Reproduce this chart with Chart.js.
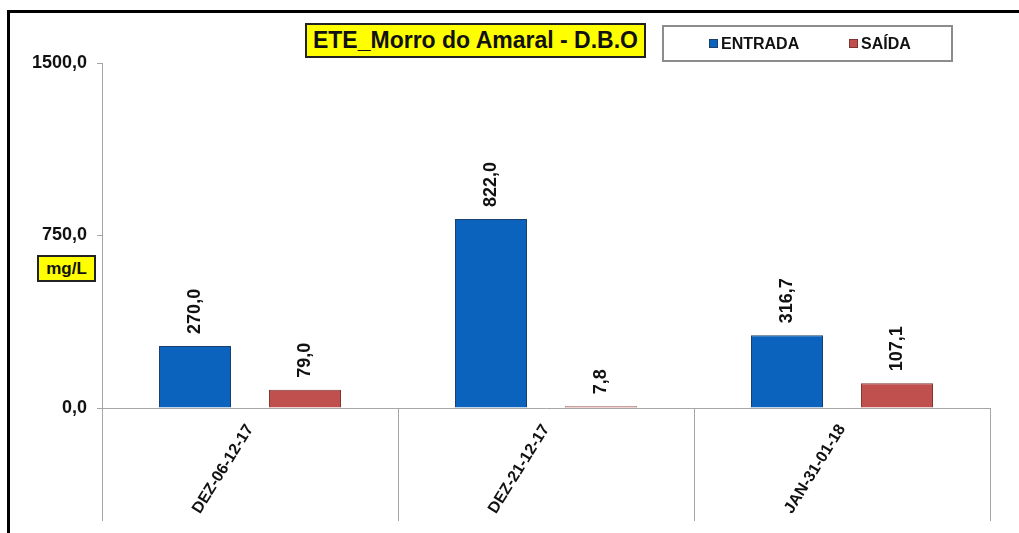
<!DOCTYPE html>
<html><head><meta charset="utf-8">
<script src="https://cdn.jsdelivr.net/npm/chart.js@4.4.0/dist/chart.umd.min.js"></script>
<style>
html,body{margin:0;padding:0;background:#fff;}
#wrap{position:relative;width:1019px;height:533px;overflow:hidden;font-family:"Liberation Sans",Arial,sans-serif;background:#fff;}
#frame{position:absolute;left:7px;top:10px;width:1100px;height:600px;border-top:3px solid #000;border-left:3px solid #000;box-sizing:border-box;}
canvas{position:absolute;left:0;top:0;}
#title{position:absolute;left:305px;top:23px;width:337px;height:31px;background:#ffff00;border:2px solid #222;font-weight:bold;font-size:23px;line-height:31px;text-align:center;color:#111;white-space:nowrap;}
#legend{position:absolute;left:662px;top:25px;width:287px;height:33px;border:2px solid #8c8c8c;background:#fff;}
.item{position:absolute;top:0;line-height:33px;font-weight:bold;font-size:16px;color:#111;white-space:nowrap;}
.sw{display:inline-block;width:7px;height:7px;margin-right:3px;vertical-align:1px;border:1px solid;}
#unit{position:absolute;left:37px;top:255px;width:55px;height:23px;background:#ffff00;border:2px solid #222;font-weight:bold;font-size:17px;line-height:23px;text-align:center;color:#111;}
</style></head>
<body>
<div id="wrap">
  <div id="frame"></div>
  <canvas id="c" width="1019" height="533"></canvas>
  <div id="title"></div>
  <div id="legend"></div>
  <div id="unit"></div>
</div>
<script>
const chartTitle = 'ETE_Morro do Amaral - D.B.O';
const unitLabel = 'mg/L';
const categories = ['DEZ-06-12-17', 'DEZ-21-12-17', 'JAN-31-01-18'];
const entrada = [270.0, 822.0, 316.7];
const saida = [79.0, 7.8, 107.1];
const seriesNames = ['ENTRADA', 'SAÍDA'];
const seriesColors = ['#0B63BE', '#C0504D'];
const seriesBorders = ['#1D3F6B', '#7E3432'];
const yTicks = [0, 750, 1500];

const fmt = v => v.toFixed(1).replace('.', ',');
const FONT = '"Liberation Sans", Arial, sans-serif';

document.getElementById('title').textContent = chartTitle;
document.getElementById('unit').textContent = unitLabel;
const legend = document.getElementById('legend');
const legendX = [45, 185];
seriesNames.forEach((n, i) => {
  const d = document.createElement('div');
  d.className = 'item';
  d.style.left = legendX[i] + 'px';
  const s = document.createElement('span');
  s.className = 'sw';
  s.style.background = seriesColors[i];
  s.style.borderColor = seriesBorders[i];
  d.appendChild(s);
  d.appendChild(document.createTextNode(n));
  legend.appendChild(d);
});

const valueLabels = {
  id: 'valueLabels',
  afterDatasetsDraw(chart) {
    const ctx = chart.ctx;
    chart.data.datasets.forEach((ds, i) => {
      chart.getDatasetMeta(i).data.forEach((bar, j) => {
        ctx.save();
        ctx.translate(bar.x, bar.y - 12);
        ctx.rotate(-Math.PI / 2);
        ctx.font = 'bold 18px ' + FONT;
        ctx.fillStyle = '#111';
        ctx.textAlign = 'left';
        ctx.textBaseline = 'middle';
        ctx.fillText(fmt(ds.data[j]), 0, 0);
        ctx.restore();
      });
    });
  }
};

Chart.defaults.font.family = FONT;
new Chart(document.getElementById('c'), {
  type: 'bar',
  data: {
    labels: categories,
    datasets: [
      { label: seriesNames[0], data: entrada, backgroundColor: seriesColors[0], borderColor: seriesBorders[0], borderWidth: 1 },
      { label: seriesNames[1], data: saida, backgroundColor: seriesColors[1], borderColor: seriesBorders[1], borderWidth: 1 }
    ]
  },
  options: {
    responsive: false,
    devicePixelRatio: 1,
    animation: false,
    categoryPercentage: 0.743,
    barPercentage: 0.655,
    layout: { padding: { top: 63, right: 29, bottom: 0, left: 0 } },
    plugins: { legend: { display: false }, title: { display: false }, tooltip: { enabled: false } },
    scales: {
      x: {
        grid: { offset: true, drawOnChartArea: false, drawTicks: true, tickLength: 113, tickColor: '#a6a6a6', color: '#a6a6a6', lineWidth: 1 },
        border: { display: true, color: '#a6a6a6', width: 1 },
        ticks: { minRotation: 58, maxRotation: 58, autoSkip: false, padding: -100, color: '#111', font: { size: 16, weight: 'bold' } },
        afterFit: s => { s.height = 125; }
      },
      y: {
        min: 0, max: 1500,
        afterBuildTicks: s => { s.ticks = yTicks.map(v => ({ value: v })); },
        grid: { drawOnChartArea: false, drawTicks: true, tickLength: 5, tickColor: '#a6a6a6' },
        border: { display: true, color: '#a6a6a6', width: 1 },
        ticks: { padding: 10, color: '#111', font: { size: 18, weight: 'bold' }, callback: v => fmt(v) },
        afterFit: s => { s.width = 102; }
      }
    }
  },
  plugins: [valueLabels]
});
</script>
</body></html>
